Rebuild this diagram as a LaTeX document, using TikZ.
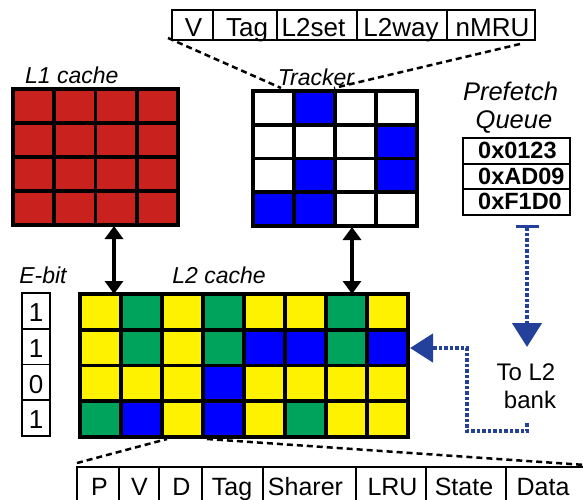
\documentclass[tikz,border=0pt]{standalone}
\usepackage{fontspec}
\setmainfont{Liberation Sans}
\usetikzlibrary{arrows.meta}
\definecolor{cred}{RGB}{201,33,30}
\definecolor{cyel}{RGB}{255,242,0}
\definecolor{cgrn}{RGB}{0,163,92}
\definecolor{cblu}{RGB}{0,0,255}
\definecolor{cwht}{RGB}{255,255,255}
\definecolor{darr}{RGB}{35,64,155}
\newcommand\fsz[1]{\fontsize{#1pt}{#1pt}\selectfont}
\begin{document}
\begin{tikzpicture}[x=1pt,y=-1pt,
  cell/.style={draw=black,line width=3.7pt,inner sep=0pt,outer sep=0pt},
  fieldbox/.style={draw=black,line width=1.6pt,inner sep=0pt,outer sep=0pt},
  ftext/.style={inner sep=0pt,anchor=base,font=\fsz{26}},
  btext/.style={inner sep=0pt,anchor=base,font=\fsz{25}},
  lbl/.style={inner sep=0pt,anchor=base,font=\fsz{23}\itshape},
  hex/.style={inner sep=0pt,anchor=base west,font=\fsz{23.5}\bfseries},
  dashline/.style={draw=black,line width=2.5pt,dash pattern=on 6pt off 4pt},
  bluedot/.style={draw=darr,line width=4.5pt,dash pattern=on 3.5pt off 2pt},
  biarrow/.style={draw=black,line width=4pt,{Triangle[width=18pt,length=13pt]}-{Triangle[width=18pt,length=13pt]}}
]
\useasboundingbox (0,0) rectangle (583,499);
\clip (0,0) rectangle (583,499);

% ---------- dashed connectors (behind) ----------
\coordinate (dA1) at (168,38);
\coordinate (dA2) at (281,88);
\coordinate (dB1) at (520,44);
\coordinate (dB2) at (334,88);
\coordinate (dC1) at (77,463);
\coordinate (dC2) at (167,439);
\coordinate (dD1) at (207,439);
\coordinate (dD2) at (600,466);
\draw[dashline] (dA1) -- (dA2);
\draw[dashline] (dB1) -- (dB2);
\draw[dashline] (dC1) -- (dC2);
\draw[dashline] (dD1) -- (dD2);

% ---------- header fields ----------
\node[fieldbox,minimum width=41pt,minimum height=30pt] (hV) at (192.5,25) {};
\node[fieldbox,minimum width=64pt,minimum height=30pt] (hTag) at (245,25) {};
\node[fieldbox,minimum width=80pt,minimum height=30pt] (hSet) at (317,25) {};
\node[fieldbox,minimum width=90pt,minimum height=30pt] (hWay) at (402,25) {};
\node[fieldbox,minimum width=88pt,minimum height=30pt] (hMRU) at (491,25) {};
\node[ftext] (thV) at (193.5,36) {V};
\node[ftext] (thTag) at (247,36) {Tag};
\node[ftext] (thSet) at (313.5,36) {L2set};
\node[ftext] (thWay) at (401,36) {L2way};
\node[ftext] (thMRU) at (492.5,36) {nMRU};

% ---------- labels ----------
\node[lbl,anchor=base west] (lL1) at (25,83) {L1 cache};
\node[lbl] (lTr) at (316,85) {Tracker};
\node[lbl] (lL2) at (219,283) {L2 cache};
\node[lbl] (lEb) at (43,283) {E-bit};
\node[inner sep=0pt,anchor=base,font=\fsz{25.5}\itshape] (lPf) at (510.5,100) {Prefetch};
\node[inner sep=0pt,anchor=base,font=\fsz{25.5}\itshape] (lQu) at (514,128) {Queue};
\node[inner sep=0pt,anchor=base,font=\fsz{24}] (lTo) at (526,380) {To L2};
\node[inner sep=0pt,anchor=base,font=\fsz{24}] (lBk) at (530,408) {bank};

% ---------- L1 cache ----------
\foreach \r in {0,...,3}
  \foreach \c in {0,...,3}
    \node[cell,fill=cred,minimum width=41.25pt,minimum height=34pt] (l1-\r-\c)
      at ({13+41.25*(\c+0.5)},{89+34*(\r+0.5)}) {};

% ---------- Tracker ----------
\foreach \r/\row in {0/{cwht,cblu,cwht,cwht},1/{cwht,cwht,cwht,cblu},2/{cwht,cblu,cwht,cblu},3/{cblu,cblu,cwht,cwht}}
  \foreach \cl [count=\c from 0] in \row
    \node[cell,fill=\cl,minimum width=41pt,minimum height=33.75pt] (tr-\r-\c)
      at ({253+41*(\c+0.5)},{91+33.75*(\r+0.5)}) {};

% ---------- L2 cache ----------
\foreach \r/\row in {0/{cyel,cgrn,cyel,cgrn,cyel,cyel,cgrn,cyel},
                     1/{cyel,cgrn,cyel,cgrn,cblu,cblu,cgrn,cblu},
                     2/{cyel,cyel,cyel,cblu,cyel,cyel,cyel,cyel},
                     3/{cgrn,cblu,cyel,cblu,cyel,cgrn,cyel,cyel}}
  \foreach \cl [count=\c from 0] in \row
    \node[cell,fill=\cl,minimum width=41pt,minimum height=35.75pt] (l2-\r-\c)
      at ({80+41*(\c+0.5)},{294+35.75*(\r+0.5)}) {};

% ---------- E-bit ----------
\foreach \v [count=\r from 0] in {1,1,0,1} {
  \node[fieldbox,minimum width=28pt,minimum height=35.75pt] (eb-\r)
    at (36,{293+35.75*(\r+0.5)}) {};
  \node[inner sep=0pt,anchor=base,font=\fsz{26}] (ebt-\r) at (36,{293+35.75*\r+28.5}) {\v};
}

% ---------- Prefetch queue ----------
\node[fieldbox,line width=2pt,minimum width=107pt,minimum height=25.5pt] (q1) at (516.5,150.75) {};
\node[fieldbox,line width=2pt,minimum width=107pt,minimum height=25.5pt] (q2) at (516.5,176.25) {};
\node[fieldbox,line width=2pt,minimum width=107pt,minimum height=25.5pt] (q3) at (516.5,201.75) {};
\node[hex] (tq1) at (478,158) {0x0123};
\node[hex] (tq2) at (478,184) {0xAD09};
\node[hex] (tq3) at (478,209.5) {0xF1D0};

% ---------- bottom fields ----------
\node[fieldbox,minimum width=42pt,minimum height=43pt] (bP) at (98,488.5) {};
\node[fieldbox,minimum width=40pt,minimum height=43pt] (bV) at (139,488.5) {};
\node[fieldbox,minimum width=43pt,minimum height=43pt] (bD) at (180.5,488.5) {};
\node[fieldbox,minimum width=61pt,minimum height=43pt] (bTag) at (232.5,488.5) {};
\node[fieldbox,minimum width=93pt,minimum height=43pt] (bSh) at (309.5,488.5) {};
\node[fieldbox,minimum width=70pt,minimum height=43pt] (bLRU) at (391,488.5) {};
\node[fieldbox,minimum width=80pt,minimum height=43pt] (bSt) at (466,488.5) {};
\node[fieldbox,minimum width=94pt,minimum height=43pt] (bDa) at (553,488.5) {};
\node[btext] (tbP) at (99.5,495) {P};
\node[btext] (tbV) at (139.5,495) {V};
\node[btext] (tbD) at (181.5,495) {D};
\node[btext] (tbTag) at (232,495) {Tag};
\node[btext] (tbSh) at (305.5,495) {Sharer};
\node[btext] (tbLRU) at (392.5,495) {LRU};
\node[btext] (tbSt) at (464,495) {State};
\node[btext] (tbDa) at (543,495) {Data};

% ---------- black double arrows ----------
\coordinate (a1s) at (114,226);
\coordinate (a1e) at (114,294);
\coordinate (a2s) at (352,227);
\coordinate (a2e) at (352,294);
\draw[biarrow] (a1s) -- (a1e);
\draw[biarrow] (a2s) -- (a2e);

% ---------- blue dotted arrows ----------
\coordinate (p1) at (527,225);
\coordinate (p2) at (527,347);
\draw[bluedot,{Bar[width=23pt,line width=3pt]}-{Triangle[width=29pt,length=24pt]}] (p1) -- (p2);
\coordinate (r1) at (527,423);
\coordinate (r2) at (527,431);
\coordinate (r3) at (467,431);
\coordinate (r4) at (467,348);
\coordinate (r5) at (410,348);
\draw[bluedot,-{Triangle[width=28pt,length=23pt]}] (r1) -- (r2) -- (r3) -- (r4) -- (r5);
\end{tikzpicture}
\end{document}
